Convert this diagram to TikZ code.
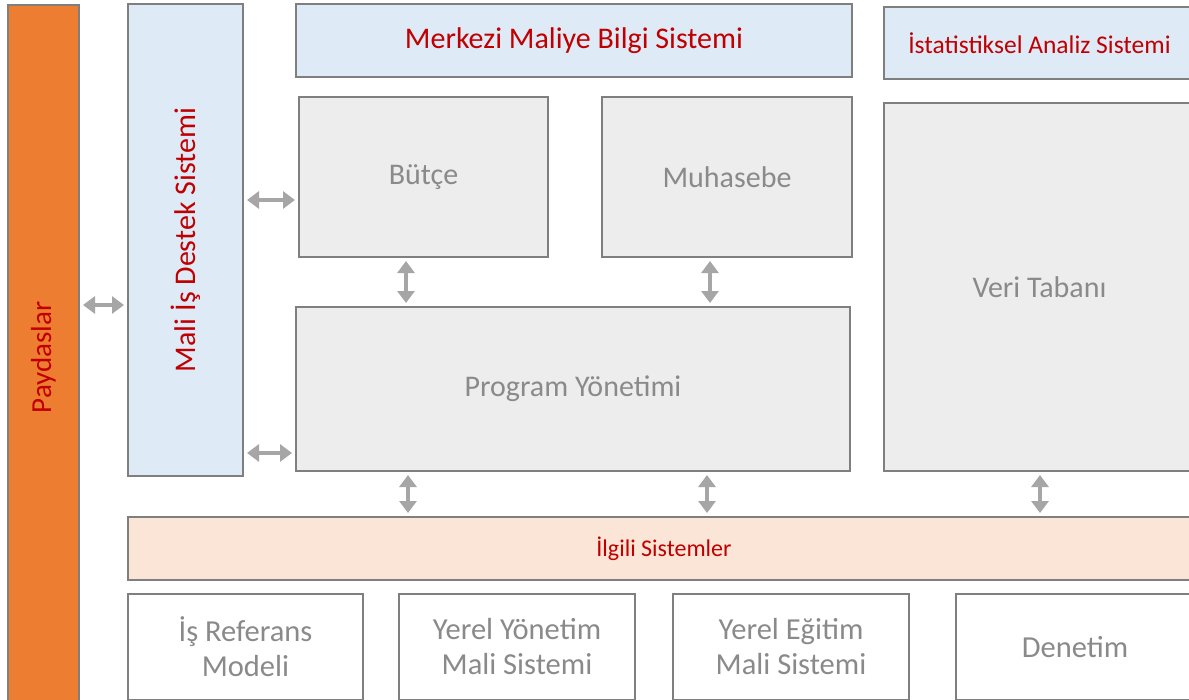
\documentclass[tikz,border=0pt]{standalone}
\usepackage{fontspec}
\setmainfont{Carlito}
\usetikzlibrary{arrows.meta}
\definecolor{frameGray}{HTML}{7F7F7F}
\definecolor{textGray}{HTML}{8A8A8A}
\definecolor{textRed}{HTML}{C00000}
\definecolor{fillBlue}{HTML}{DEEAF6}
\definecolor{fillGray}{HTML}{EDEDED}
\definecolor{fillPeach}{HTML}{FBE5D6}
\definecolor{fillOrange}{HTML}{ED7D31}
\definecolor{arrowGray}{HTML}{A6A6A6}
\begin{document}
\begin{tikzpicture}[x=1pt, y=-1pt,
        boxStyle/.style={draw=frameGray, line width=2pt, inner sep=0pt},
        blueBox/.style={boxStyle, fill=fillBlue, text=textRed},
        grayBox/.style={boxStyle, fill=fillGray, text=textGray, font=\fontsize{30}{36}\selectfont},
        whiteBox/.style={boxStyle, fill=white, text=textGray, align=center, font=\fontsize{30.5}{35}\selectfont},
        arrowStyle/.style={arrowGray, line width=4pt, {Triangle[width=17pt,length=12pt]}-{Triangle[width=17pt,length=12pt]}, shorten <=3pt, shorten >=3pt}]
                    \clip (0,0) rectangle (1189,699);
                    \fill[white] (0,0) rectangle (1189,699);

                    \node[boxStyle, fill=fillOrange, text=textRed, rotate=90, minimum width=705, minimum height=71, font=\fontsize{29}{35}\selectfont](payd) at (43.5, 357.5) {Paydaslar};
                    \node[blueBox, rotate=90, minimum width=472, minimum height=115, font=\fontsize{30}{36}\selectfont](mali) at (185.5, 240) {Mali İş Destek Sistemi};
                    \node[blueBox, minimum width=556, minimum height=73, font=\fontsize{30}{36}\selectfont](merkezi) at (574, 40.5) {Merkezi Maliye Bilgi Sistemi};
                    \node[blueBox, minimum width=311, minimum height=72, font=\fontsize{25.5}{30}\selectfont](istat) at (1039.5, 43) {İstatistiksel Analiz Sistemi};

                    \node[grayBox, minimum width=249, minimum height=160](butce) at (423.5, 177) {\raisebox{-3pt}{Bütçe}};
                    \node[grayBox, minimum width=250, minimum height=160](muhasebe) at (727, 177) {\raisebox{-2pt}{Muhasebe}};
                    \node[grayBox, minimum width=554, minimum height=164](program) at (573, 389) {\raisebox{-3pt}{Program Yönetimi}};
                    \node[grayBox, minimum width=311, minimum height=368](veri) at (1039.5, 287) {Veri Tabanı};

                    \node[boxStyle, fill=fillPeach, text=textRed, minimum width=1072, minimum height=63, font=\fontsize{24}{29}\selectfont](ilgili) at (664, 548.5) {\raisebox{-4pt}{İlgili Sistemler}};

                    \node[whiteBox, minimum width=235, minimum height=106](isref) at (245.5, 647) {İş Referans\\Modeli};
                    \node[whiteBox, minimum width=236, minimum height=106](yerelyon) at (517, 647) {Yerel Yönetim\\Mali Sistemi};
                    \node[whiteBox, minimum width=236, minimum height=106](yerelegt) at (791, 647) {Yerel Eğitim\\Mali Sistemi};
                    \node[whiteBox, minimum width=238, minimum height=106](denetim) at (1075, 647) {Denetim};

                    \draw[arrowStyle] (payd.south |- 0,305) -- (mali.north |- 0,305);
                    \draw[arrowStyle] (mali.south |- 0,200) -- (butce.west |- 0,200);
                    \draw[arrowStyle] (mali.south |- 0,453) -- (program.west |- 0,453);
                    \draw[arrowStyle] (butce.south -| 406,0) -- (program.north -| 406,0);
                    \draw[arrowStyle] (muhasebe.south -| 710,0) -- (program.north -| 710,0);
                    \draw[arrowStyle] (program.south -| 408,0) -- (ilgili.north -| 408,0);
                    \draw[arrowStyle] (program.south -| 707,0) -- (ilgili.north -| 707,0);
                    \draw[arrowStyle] (veri.south -| 1040,0) -- (ilgili.north -| 1040,0);
                \end{tikzpicture}
\end{document}
